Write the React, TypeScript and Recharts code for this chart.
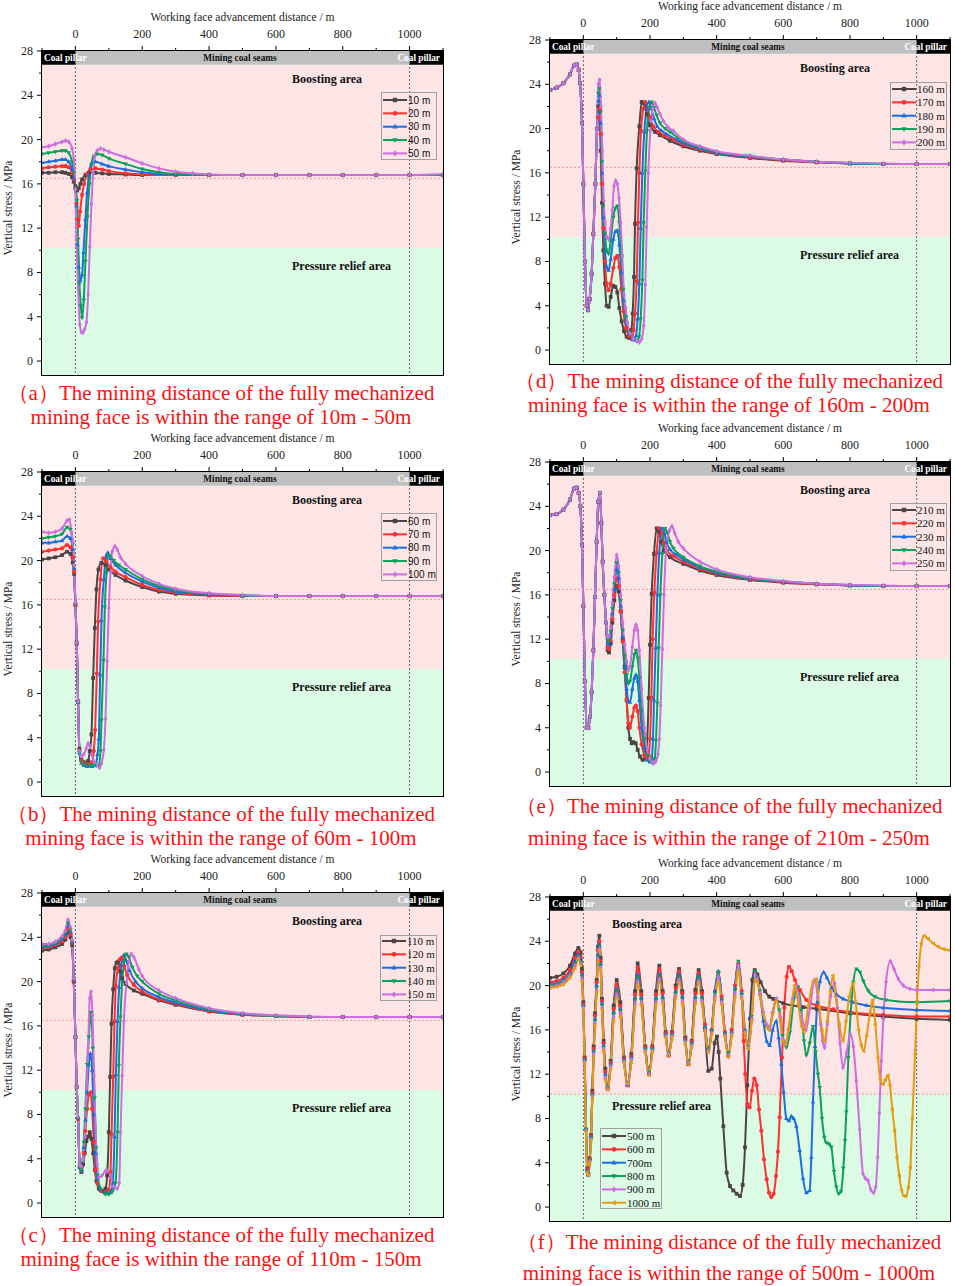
import React from "react";
import { LineChart, Line, XAxis, YAxis, ReferenceArea, ReferenceLine } from "recharts";

type Pt = [number, number];

// ---------- (a) 10 m - 50 m ----------
const a10: Pt[] = [[-100,17.0],[-80,17.0],[-60,17.05],[-40,17.05],[-30,17.0],[-20,16.9],[-10,16.6],[-5,16.2],[0,15.8],[5,15.4],[10,15.6],[15,16.0],[20,16.4],[30,16.8],[40,17.0],[60,17.0],[80,16.95],[100,16.9],[150,16.85],[200,16.8],[300,16.8],[400,16.8],[500,16.8],[600,16.8],[700,16.8],[800,16.8],[900,16.8],[1000,16.8],[1100,16.8]];
const a20: Pt[] = [[-100,17.4],[-80,17.5],[-60,17.55],[-40,17.6],[-30,17.6],[-20,17.5],[-10,17.0],[-5,16.4],[0,15.6],[3,14.2],[6,12.8],[10,12.2],[14,13.5],[20,15.0],[26,16.0],[35,16.9],[45,17.3],[60,17.4],[80,17.3],[100,17.15],[150,16.95],[200,16.85],[300,16.8],[400,16.8],[500,16.8],[600,16.8],[700,16.8],[800,16.8],[900,16.8],[1000,16.8],[1100,16.8]];
const a30: Pt[] = [[-100,17.9],[-80,18.0],[-60,18.1],[-40,18.2],[-30,18.2],[-20,18.0],[-10,17.3],[-5,16.5],[0,15.6],[3,14.0],[6,10.5],[10,8.5],[15,7.3],[20,7.8],[24,9.8],[30,12.8],[35,15.2],[40,16.8],[48,17.8],[60,18.0],[80,17.8],[100,17.6],[150,17.3],[200,17.05],[250,16.9],[300,16.85],[400,16.8],[500,16.8],[600,16.8],[700,16.8],[800,16.8],[900,16.8],[1000,16.8],[1100,16.8]];
const a40: Pt[] = [[-100,18.7],[-80,18.8],[-60,18.9],[-40,19.0],[-30,19.0],[-20,18.8],[-10,18.0],[-5,17.0],[0,15.6],[5,14.5],[8,11.0],[12,7.0],[16,5.0],[20,3.9],[25,5.5],[30,9.0],[36,13.0],[42,16.0],[48,17.8],[55,18.5],[65,18.7],[80,18.6],[100,18.3],[150,17.8],[200,17.35],[250,17.05],[300,16.9],[400,16.8],[500,16.8],[600,16.8],[700,16.8],[800,16.8],[900,16.8],[1000,16.8],[1100,16.8]];
const a50: Pt[] = [[-100,19.3],[-80,19.4],[-60,19.6],[-40,19.8],[-30,19.9],[-20,19.8],[-10,19.2],[-5,18.2],[0,15.5],[3,11.2],[8,6.6],[13,3.3],[18,2.6],[23,2.6],[28,2.9],[33,3.5],[38,6.0],[43,10.3],[48,14.2],[53,17.0],[58,18.5],[65,19.0],[75,19.2],[85,19.1],[100,18.9],[150,18.4],[200,17.85],[250,17.4],[300,17.1],[350,16.95],[400,16.85],[500,16.8],[600,16.8],[700,16.8],[800,16.8],[900,16.8],[1000,16.8],[1100,16.9]];

// ---------- (b) 60 m - 100 m ----------
const b60: Pt[] = [[-100,20.1],[-80,20.2],[-60,20.3],[-40,20.5],[-25,20.8],[-15,20.6],[-8,19.8],[-4,18.8],[0,16.0],[4,12.6],[8,7.3],[12,3.0],[18,2.0],[25,1.8],[32,1.7],[38,1.9],[43,2.8],[48,4.3],[53,9.4],[58,13.9],[63,17.4],[69,19.2],[78,19.8],[90,19.6],[100,19.2],[120,18.7],[150,18.2],[200,17.6],[250,17.2],[300,17.0],[400,16.85],[500,16.8],[600,16.8],[700,16.8],[800,16.8],[900,16.8],[1000,16.8],[1100,16.8]];
const b70: Pt[] = [[-100,20.8],[-80,20.9],[-60,21.0],[-40,21.1],[-25,21.4],[-15,21.2],[-8,20.3],[-4,19.0],[0,16.0],[4,12.5],[8,7.2],[12,2.8],[18,1.9],[25,1.7],[35,1.6],[45,1.6],[50,1.8],[55,2.8],[59,4.7],[64,9.8],[68,14.5],[75,18.3],[83,20.2],[92,19.9],[105,19.4],[120,19.0],[150,18.5],[200,17.8],[250,17.35],[300,17.1],[400,16.9],[500,16.8],[600,16.8],[700,16.8],[800,16.8],[900,16.8],[1000,16.8],[1100,16.8]];
const b80: Pt[] = [[-100,21.6],[-80,21.6],[-60,21.7],[-40,21.8],[-25,22.2],[-15,22.0],[-8,21.0],[-4,19.3],[0,16.1],[4,12.5],[8,7.2],[12,2.7],[18,1.7],[25,1.5],[35,1.4],[50,1.4],[60,1.5],[66,2.5],[70,3.9],[74,9.7],[78,14.6],[85,18.3],[93,20.5],[97,20.7],[105,20.2],[120,19.6],[150,18.9],[200,18.1],[250,17.55],[300,17.2],[400,16.95],[500,16.85],[600,16.8],[700,16.8],[800,16.8],[900,16.8],[1000,16.8],[1100,16.8]];
const b90: Pt[] = [[-100,22.0],[-80,22.1],[-60,22.2],[-40,22.4],[-25,23.0],[-15,22.8],[-8,21.5],[-4,19.5],[0,16.1],[4,12.5],[8,7.2],[12,2.7],[18,1.8],[25,1.6],[35,1.6],[50,1.5],[62,1.5],[70,1.5],[75,2.8],[78,5.6],[84,11.0],[88,15.8],[93,18.9],[98,20.5],[104,20.4],[115,20.0],[130,19.6],[150,19.2],[200,18.3],[250,17.7],[300,17.35],[400,17.0],[500,16.85],[600,16.8],[700,16.8],[800,16.8],[900,16.8],[1000,16.8],[1100,16.8]];
const b100: Pt[] = [[-100,22.6],[-80,22.5],[-60,22.6],[-40,22.9],[-25,23.6],[-18,23.7],[-12,22.6],[-8,21.6],[-4,19.6],[0,16.2],[4,12.6],[8,7.3],[12,2.8],[18,2.3],[25,2.5],[32,3.0],[38,3.5],[42,3.3],[48,2.5],[55,1.9],[65,1.5],[72,1.3],[78,1.7],[85,2.9],[90,5.7],[95,10.9],[100,15.7],[105,19.0],[110,20.8],[118,21.3],[125,21.0],[135,20.3],[150,19.7],[200,18.6],[250,17.9],[300,17.45],[400,17.05],[500,16.9],[600,16.8],[700,16.8],[800,16.8],[900,16.8],[1000,16.8],[1100,16.8]];

// ---------- (c) 110 m - 150 m ----------
const c110: Pt[] = [[-100,22.8],[-80,22.9],[-60,23.1],[-40,23.4],[-30,23.8],[-22,24.4],[-15,24.0],[-10,23.3],[-5,20.0],[0,15.0],[4,10.5],[8,7.6],[13,3.3],[18,2.8],[23,3.5],[28,4.5],[33,5.6],[38,6.0],[43,6.4],[48,5.8],[53,4.5],[58,3.0],[63,2.0],[70,1.3],[80,1.1],[90,1.3],[95,2.5],[100,6.4],[104,11.4],[108,16.2],[113,19.3],[118,21.2],[123,21.7],[128,21.8],[134,20.9],[140,20.3],[150,19.8],[175,19.2],[200,18.9],[250,18.3],[300,17.9],[400,17.3],[500,17.0],[600,16.9],[700,16.8],[800,16.8],[900,16.8],[1000,16.8],[1100,16.8]];
const c120: Pt[] = [[-100,23.0],[-80,23.1],[-60,23.3],[-40,23.6],[-30,24.0],[-22,24.7],[-15,24.3],[-10,23.5],[-5,20.1],[0,15.0],[4,10.5],[8,7.6],[13,3.2],[18,2.9],[25,4.5],[30,6.5],[35,8.5],[40,9.8],[45,10.0],[50,8.5],[55,5.5],[60,3.0],[65,1.8],[75,1.1],[90,1.0],[100,1.2],[105,2.8],[108,6.2],[113,11.4],[117,16.4],[121,19.6],[127,21.2],[133,22.0],[140,22.2],[146,21.4],[155,20.6],[175,19.7],[200,19.1],[250,18.4],[300,18.0],[400,17.35],[500,17.0],[600,16.9],[700,16.8],[800,16.8],[900,16.8],[1000,16.8],[1100,16.8]];
const c130: Pt[] = [[-100,23.1],[-80,23.2],[-60,23.4],[-40,23.8],[-30,24.2],[-22,25.0],[-15,24.5],[-10,23.6],[-5,20.2],[0,15.0],[4,10.5],[8,7.7],[13,3.2],[18,2.9],[25,5.0],[30,7.5],[35,10.0],[40,12.5],[45,13.5],[50,12.0],[55,8.0],[60,4.5],[65,2.2],[75,1.2],[90,0.9],[105,1.0],[112,1.8],[117,6.0],[121,11.6],[126,16.4],[131,19.5],[137,21.5],[145,22.4],[152,21.9],[162,21.0],[180,20.0],[200,19.4],[250,18.6],[300,18.1],[400,17.4],[500,17.05],[600,16.9],[700,16.8],[800,16.8],[900,16.8],[1000,16.8],[1100,16.8]];
const c140: Pt[] = [[-100,23.2],[-80,23.3],[-60,23.5],[-40,23.9],[-30,24.4],[-22,25.3],[-15,24.7],[-10,23.7],[-5,20.3],[0,15.0],[4,10.5],[8,7.7],[13,3.3],[18,3.0],[25,5.5],[30,8.5],[35,12.5],[40,15.0],[47,17.2],[52,14.0],[57,9.5],[62,5.0],[67,2.5],[75,1.3],[90,0.8],[100,0.8],[110,1.0],[120,1.8],[126,6.4],[130,12.4],[135,16.8],[140,20.0],[146,21.8],[153,22.5],[160,22.2],[170,21.3],[185,20.5],[200,20.0],[250,18.9],[300,18.3],[400,17.5],[500,17.1],[600,16.9],[700,16.8],[800,16.8],[900,16.8],[1000,16.8],[1100,16.8]];
const c150: Pt[] = [[-100,23.4],[-80,23.4],[-60,23.6],[-40,24.1],[-30,24.6],[-22,25.6],[-15,24.9],[-10,23.8],[-5,20.3],[0,15.0],[4,10.5],[8,7.8],[13,3.4],[18,3.3],[23,4.0],[28,6.0],[33,9.5],[38,14.0],[43,18.5],[47,19.1],[51,17.0],[56,11.5],[60,7.0],[65,3.5],[70,2.3],[80,2.5],[90,2.9],[97,2.9],[105,2.5],[115,1.5],[125,1.3],[131,1.8],[135,6.4],[140,11.5],[145,16.4],[153,19.9],[160,21.8],[167,22.5],[175,22.2],[190,21.1],[200,20.5],[250,19.2],[300,18.5],[400,17.6],[500,17.15],[600,16.95],[700,16.85],[800,16.8],[900,16.8],[1000,16.8],[1100,16.8]];

// ---------- (d) 160 m - 200 m ----------
const dLeft: Pt[] = [[-100,23.5],[-80,23.7],[-60,24.1],[-40,24.9],[-28,25.7],[-20,25.8],[-14,25.3],[-10,24.1],[-4,20.5],[0,15.0],[5,8.0],[10,4.0],[14,3.6],[19,4.6],[25,6.9],[30,10.5],[36,15.0],[41,20.0]];
const d160: Pt[] = [...dLeft,[45,22.0],[48,21.6],[52,18.0],[56,13.3],[60,9.0],[65,6.0],[70,4.0],[76,3.9],[82,4.8],[90,5.8],[96,5.7],[102,5.2],[108,3.8],[115,2.6],[122,1.7],[130,1.2],[137,1.1],[144,1.8],[148,3.3],[152,6.6],[155,11.4],[160,16.4],[168,20.2],[175,22.4],[182,22.3],[190,21.3],[200,20.3],[215,19.7],[230,19.4],[260,18.9],[300,18.4],[350,18.0],[400,17.7],[500,17.35],[600,17.1],[700,16.95],[800,16.85],[900,16.8],[1000,16.8],[1100,16.8]];
const d170: Pt[] = [...dLeft,[45,21.0],[48,21.8],[52,19.5],[56,15.0],[60,11.0],[65,8.0],[70,6.0],[76,5.4],[82,6.0],[90,7.4],[96,8.3],[102,8.5],[108,7.5],[114,5.5],[120,3.5],[128,2.0],[136,1.3],[145,1.0],[151,1.8],[155,3.3],[160,6.2],[164,11.5],[168,16.0],[173,19.8],[180,21.8],[186,22.4],[193,21.8],[200,21.0],[210,20.2],[225,19.7],[240,19.4],[270,19.0],[300,18.55],[350,18.1],[400,17.75],[500,17.4],[600,17.15],[700,16.95],[800,16.85],[900,16.8],[1000,16.8],[1100,16.8]];
const d180: Pt[] = [...dLeft,[45,22.5],[48,23.0],[52,20.5],[56,16.0],[60,12.0],[65,9.0],[70,7.5],[76,7.2],[82,8.2],[90,10.0],[96,10.7],[102,10.8],[108,9.5],[114,7.0],[120,4.5],[128,2.5],[138,1.4],[146,1.0],[152,0.9],[158,1.3],[163,2.8],[168,6.0],[172,11.0],[177,16.0],[183,19.7],[190,21.8],[197,22.4],[204,21.8],[212,20.9],[222,20.2],[235,19.8],[250,19.5],[280,19.0],[300,18.7],[350,18.2],[400,17.8],[500,17.45],[600,17.2],[700,17.0],[800,16.85],[900,16.8],[1000,16.8],[1100,16.8]];
const d190: Pt[] = [...dLeft,[45,23.2],[48,23.6],[52,21.5],[56,17.0],[60,13.0],[65,10.5],[70,9.0],[76,8.7],[82,9.8],[90,12.0],[96,12.8],[102,13.0],[108,11.5],[114,8.5],[120,5.5],[128,3.0],[138,1.6],[150,1.0],[160,0.8],[167,1.2],[172,2.8],[177,6.3],[181,11.5],[186,16.2],[191,19.8],[198,21.9],[205,22.4],[212,21.9],[220,21.2],[230,20.5],[245,20.0],[260,19.7],[300,18.85],[350,18.3],[400,17.85],[500,17.5],[600,17.2],[700,17.0],[800,16.9],[900,16.8],[1000,16.8],[1100,16.8]];
const d200: Pt[] = [...dLeft,[45,24.0],[49,24.4],[53,22.0],[57,18.0],[61,13.5],[65,11.6],[70,10.2],[76,10.0],[82,11.0],[87,12.6],[92,14.8],[97,15.3],[102,15.0],[107,13.7],[112,11.5],[117,8.5],[122,5.0],[127,3.8],[132,2.5],[140,1.5],[150,1.0],[160,0.8],[168,0.7],[175,1.0],[181,2.2],[186,5.9],[190,11.1],[195,16.0],[201,19.8],[208,21.8],[215,22.3],[222,21.9],[230,21.3],[240,20.7],[255,20.1],[270,19.8],[300,19.0],[350,18.4],[400,17.95],[500,17.55],[600,17.2],[700,17.0],[800,16.9],[900,16.85],[1000,16.8],[1100,16.8]];

// ---------- (e) 210 m - 250 m ----------
const eLeft: Pt[] = [[-100,23.2],[-80,23.3],[-60,23.7],[-40,24.6],[-28,25.6],[-20,25.7],[-14,25.2],[-9,24.0],[-4,20.5],[0,15.0],[5,8.2],[10,4.0],[15,4.0],[20,5.0],[25,7.2],[30,11.0],[35,15.8],[40,20.8],[45,24.4],[50,25.2],[54,22.5],[58,19.0],[63,16.0],[68,13.5]];
const e210: Pt[] = [...eLeft,[73,11.0],[77,10.8],[82,11.6],[87,13.5],[93,15.5],[100,16.8],[106,16.3],[112,14.5],[118,12.0],[124,9.5],[130,6.5],[135,4.0],[140,3.0],[145,2.6],[150,2.7],[157,2.6],[163,2.0],[170,1.4],[178,1.1],[185,1.2],[190,2.0],[196,6.7],[200,11.5],[205,16.1],[212,19.7],[220,22.0],[227,21.7],[234,20.8],[242,20.0],[260,19.4],[300,18.8],[350,18.2],[400,17.8],[500,17.35],[600,17.1],[700,16.95],[800,16.85],[900,16.8],[1000,16.8],[1100,16.8]];
const e220: Pt[] = [...eLeft,[73,11.3],[77,11.1],[82,11.9],[87,13.8],[93,16.0],[100,17.5],[106,16.8],[112,14.5],[118,11.8],[124,9.0],[130,6.5],[135,4.4],[140,4.0],[147,5.0],[153,5.8],[158,6.0],[163,5.5],[168,4.0],[175,2.5],[183,1.5],[190,1.2],[196,1.5],[200,3.0],[204,6.7],[208,12.0],[213,16.2],[220,19.8],[228,22.0],[235,21.6],[242,20.7],[250,20.0],[270,19.5],[300,19.0],[350,18.35],[400,17.9],[500,17.4],[600,17.15],[700,16.95],[800,16.85],[900,16.8],[1000,16.8],[1100,16.8]];
const e230: Pt[] = [...eLeft,[73,11.6],[77,11.5],[82,12.3],[87,14.3],[93,16.5],[100,18.3],[106,17.5],[112,15.0],[118,12.2],[124,9.5],[130,7.5],[135,6.4],[140,6.3],[147,7.5],[153,8.5],[158,8.8],[163,8.2],[168,6.5],[175,4.0],[183,2.2],[192,1.1],[200,0.9],[205,1.2],[209,3.0],[212,6.5],[217,11.2],[222,16.0],[228,19.8],[236,22.0],[243,21.6],[250,20.7],[260,20.1],[280,19.6],[300,19.2],[350,18.5],[400,18.0],[500,17.45],[600,17.2],[700,17.0],[800,16.85],[900,16.8],[1000,16.8],[1100,16.8]];
const e240: Pt[] = [...eLeft,[73,11.9],[77,11.9],[82,12.7],[87,14.8],[93,17.0],[100,18.9],[106,18.0],[112,15.5],[118,12.8],[124,10.5],[130,8.8],[135,8.0],[140,8.2],[147,9.5],[153,10.6],[158,11.0],[163,10.3],[168,8.5],[175,5.5],[183,3.0],[192,1.5],[200,1.0],[208,0.8],[214,1.2],[218,2.8],[222,6.2],[226,11.2],[231,16.0],[237,19.7],[245,22.0],[252,21.6],[260,20.8],[270,20.2],[300,19.4],[350,18.6],[400,18.1],[500,17.5],[600,17.2],[700,17.0],[800,16.9],[900,16.8],[1000,16.8],[1100,16.8]];
const e250: Pt[] = [...eLeft,[73,12.2],[77,12.3],[82,13.1],[87,15.3],[93,17.6],[100,19.6],[106,18.6],[112,16.0],[118,13.5],[124,11.5],[130,10.0],[135,9.2],[140,9.5],[147,11.3],[153,12.8],[158,13.3],[163,12.8],[168,11.0],[175,7.5],[183,4.0],[192,2.0],[200,1.2],[207,0.9],[212,0.8],[218,1.0],[224,1.6],[228,3.0],[232,6.0],[237,11.1],[242,16.0],[248,20.0],[258,21.8],[266,22.2],[274,21.6],[285,20.8],[300,20.2],[350,19.0],[400,18.3],[500,17.6],[600,17.25],[700,17.0],[800,16.9],[900,16.85],[1000,16.8],[1100,16.8]];

// ---------- (f) 500 m - 1000 m ----------
const f500: Pt[] = [[-100,20.7],[-80,20.8],[-60,21.1],[-40,21.8],[-25,22.9],[-15,23.4],[-8,23.0],[-4,21.5],[0,18.5],[4,13.5],[8,7.0],[12,3.5],[15,3.0],[19,4.4],[23,6.5],[27,10.5],[31,14.5],[35,17.5],[40,20.5],[44,23.5],[48,24.5],[52,22.5],[56,18.8],[61,15.0],[66,12.5],[73,10.7],[82,13.2],[91,18.2],[100,20.5],[111,18.5],[122,13.5],[133,11.0],[144,13.8],[155,19.5],[163,22.0],[174,19.5],[186,14.5],[197,12.0],[207,14.5],[218,19.5],[228,21.8],[238,19.5],[247,15.8],[256,13.7],[266,15.8],[277,20.0],[287,21.5],[297,19.5],[306,15.3],[315,12.9],[325,15.0],[336,19.6],[346,21.4],[356,19.5],[365,16.0],[375,12.3],[385,12.5],[394,14.8],[401,15.4],[406,14.0],[411,11.6],[420,7.3],[430,3.1],[440,1.9],[450,1.5],[460,1.2],[470,1.0],[478,2.0],[485,5.4],[492,11.0],[500,17.0],[507,20.5],[514,21.4],[522,21.0],[532,20.3],[545,19.5],[558,19.0],[570,18.8],[600,18.4],[660,18.05],[700,17.9],[800,17.5],[900,17.2],[1000,17.0],[1100,16.9]];
const f600: Pt[] = [[-100,20.3],[-80,20.4],[-60,20.7],[-40,21.4],[-25,22.5],[-15,23.0],[-8,22.6],[-4,21.2],[0,18.3],[4,13.4],[8,7.0],[12,3.4],[15,2.9],[19,4.3],[23,6.4],[27,10.3],[31,14.3],[35,17.3],[40,20.3],[44,23.2],[48,24.0],[52,22.2],[56,18.6],[61,14.8],[66,12.2],[73,10.7],[82,13.0],[91,17.9],[100,20.1],[111,18.2],[122,13.4],[133,11.0],[144,13.6],[155,19.2],[163,21.6],[174,19.2],[186,14.4],[197,12.0],[207,14.4],[218,19.2],[228,21.5],[238,19.3],[247,15.7],[256,13.7],[266,15.7],[277,19.8],[287,21.3],[297,19.3],[306,15.2],[315,12.9],[325,14.9],[336,19.3],[346,21.1],[356,19.3],[365,16.5],[375,14.2],[385,16.0],[395,19.5],[405,21.2],[415,19.0],[425,15.8],[435,13.6],[445,16.0],[455,20.0],[465,22.0],[475,19.5],[481,15.0],[486,12.0],[492,9.3],[499,9.0],[506,10.5],[513,11.6],[520,11.0],[527,8.8],[534,6.9],[542,4.3],[550,2.5],[557,1.3],[564,0.9],[571,1.2],[578,2.8],[584,5.0],[589,8.1],[596,13.5],[603,18.0],[610,20.8],[617,21.7],[625,21.3],[635,20.5],[650,19.6],[669,18.7],[700,18.2],[750,17.85],[800,17.6],[900,17.35],[1000,17.2],[1100,17.2]];
const f700: Pt[] = [[-100,20.1],[-80,20.2],[-60,20.5],[-40,21.1],[-25,22.2],[-15,22.8],[-8,22.4],[-4,21.0],[0,18.2],[4,13.3],[8,7.0],[12,3.3],[15,2.9],[19,4.2],[23,6.3],[27,10.2],[31,14.1],[35,17.0],[40,20.0],[44,22.8],[48,23.7],[52,22.0],[56,18.4],[61,14.6],[66,12.0],[73,10.8],[82,12.9],[91,17.6],[100,19.7],[111,17.9],[122,13.3],[133,11.1],[144,13.5],[155,18.9],[163,21.0],[174,18.9],[186,14.3],[197,12.1],[207,14.3],[218,18.9],[228,21.0],[238,19.0],[247,15.6],[256,13.8],[266,15.6],[277,19.5],[287,21.0],[297,19.0],[306,15.1],[315,13.0],[325,14.8],[336,19.0],[346,20.9],[356,19.0],[365,16.3],[375,14.2],[385,16.0],[395,19.5],[405,21.3],[415,18.8],[425,15.7],[435,13.8],[445,15.8],[455,19.8],[465,21.9],[475,19.3],[485,16.0],[495,14.4],[505,17.0],[515,21.0],[522,20.6],[530,19.2],[540,16.8],[550,15.0],[559,14.6],[568,16.0],[579,16.8],[586,15.3],[594,12.9],[601,10.4],[609,8.0],[617,7.8],[624,8.2],[631,8.0],[639,7.3],[649,5.1],[659,2.6],[669,1.3],[679,1.5],[684,4.5],[689,9.5],[695,14.5],[702,18.5],[710,20.4],[721,21.2],[731,20.7],[745,19.8],[760,19.2],[780,18.8],[809,18.5],[850,18.2],[900,18.0],[1000,17.8],[1100,17.7]];
const f800: Pt[] = [[-100,20.0],[-80,20.1],[-60,20.4],[-40,21.0],[-25,22.0],[-15,22.6],[-8,22.2],[-4,20.8],[0,18.1],[4,13.2],[8,7.0],[12,3.2],[15,2.9],[19,4.2],[23,6.2],[27,10.1],[31,14.0],[35,16.8],[40,19.8],[44,22.6],[48,23.5],[52,21.8],[56,18.2],[61,14.4],[66,11.8],[73,10.8],[82,12.8],[91,17.4],[100,19.5],[111,17.7],[122,13.2],[133,11.2],[144,13.4],[155,18.7],[163,20.7],[174,18.7],[186,14.2],[197,12.2],[207,14.2],[218,18.7],[228,20.8],[238,18.8],[247,15.5],[256,13.9],[266,15.5],[277,19.3],[287,20.8],[297,18.8],[306,15.0],[315,13.1],[325,14.7],[336,18.8],[346,20.7],[356,18.8],[365,16.2],[375,14.3],[385,15.9],[395,19.3],[405,21.2],[415,18.7],[425,15.6],[435,13.9],[445,15.7],[455,19.6],[465,22.2],[475,19.2],[485,15.9],[495,14.5],[505,17.2],[515,21.3],[522,20.8],[530,19.5],[540,17.5],[550,16.3],[558,16.0],[568,17.5],[579,18.8],[588,17.8],[598,15.5],[609,14.4],[620,15.8],[632,18.8],[644,19.9],[654,17.8],[662,15.0],[669,13.7],[679,14.8],[689,16.3],[697,14.0],[704,12.0],[709,10.8],[716,8.0],[723,6.3],[729,5.8],[737,5.7],[744,5.4],[752,3.2],[759,1.8],[766,1.2],[773,1.4],[780,3.5],[785,6.0],[789,8.6],[795,13.5],[802,17.5],[810,20.3],[819,21.5],[830,21.2],[840,20.4],[855,19.5],[875,19.0],[908,18.7],[1000,18.5],[1100,18.6]];
const f900: Pt[] = [[-100,19.9],[-80,20.0],[-60,20.3],[-40,20.9],[-25,21.8],[-15,22.5],[-8,22.0],[-4,20.6],[0,18.0],[4,13.1],[8,6.9],[12,3.1],[15,2.9],[19,4.1],[23,6.1],[27,10.0],[31,13.8],[35,16.6],[40,19.6],[44,22.4],[48,23.3],[52,21.6],[56,18.0],[61,14.3],[66,11.7],[73,10.7],[82,12.7],[91,17.2],[100,19.2],[111,17.5],[122,13.1],[133,11.1],[144,13.3],[155,18.4],[163,20.4],[174,18.5],[186,14.1],[197,12.0],[207,14.1],[218,18.5],[228,20.6],[238,18.6],[247,15.4],[256,13.8],[266,15.4],[277,19.1],[287,20.5],[297,18.6],[306,14.9],[315,13.0],[325,14.6],[336,18.6],[346,20.4],[356,18.6],[365,16.0],[375,14.1],[385,15.7],[395,19.0],[405,20.8],[415,18.5],[425,15.5],[435,13.7],[445,15.6],[455,19.3],[465,21.8],[475,19.0],[485,15.8],[495,14.4],[505,17.0],[515,21.0],[522,20.6],[530,19.3],[540,17.6],[550,16.5],[558,16.2],[568,17.6],[579,18.8],[590,17.2],[598,15.2],[606,14.7],[615,16.0],[628,18.8],[640,20.0],[650,18.3],[660,16.5],[668,16.0],[680,18.0],[694,20.5],[703,19.0],[712,16.5],[718,15.0],[724,14.4],[732,16.5],[742,19.0],[754,20.2],[762,18.0],[770,14.8],[779,12.6],[790,14.0],[801,15.6],[810,14.5],[819,11.4],[829,7.0],[839,3.0],[846,2.6],[854,2.4],[862,1.6],[871,1.3],[877,1.8],[883,4.5],[888,8.5],[894,13.2],[900,17.0],[908,20.3],[921,22.2],[932,21.5],[945,20.6],[960,20.0],[980,19.7],[1000,19.6],[1050,19.6],[1100,19.6]];
const f1000: Pt[] = [[-100,19.8],[-80,19.9],[-60,20.1],[-40,20.7],[-25,21.6],[-15,22.4],[-8,21.9],[-4,20.4],[0,17.8],[4,13.0],[8,6.8],[12,3.1],[15,2.9],[19,4.0],[23,6.0],[27,9.8],[31,13.6],[35,16.4],[40,19.4],[44,22.2],[48,23.1],[52,21.4],[56,17.8],[61,14.1],[66,11.5],[73,10.6],[82,12.5],[91,16.9],[100,18.9],[111,17.2],[122,13.0],[133,11.2],[144,13.1],[155,18.1],[163,20.1],[174,18.3],[186,14.0],[197,11.9],[207,14.0],[218,18.3],[228,20.3],[238,18.4],[247,15.3],[256,13.7],[266,15.3],[277,18.9],[287,20.3],[297,18.4],[306,14.8],[315,12.9],[325,14.5],[336,18.4],[346,20.2],[356,18.4],[365,15.9],[375,14.0],[385,15.6],[395,18.8],[405,20.3],[415,18.3],[425,15.4],[435,13.6],[445,15.5],[455,19.0],[465,21.3],[475,18.8],[485,15.7],[495,14.3],[505,16.8],[515,20.5],[522,20.3],[530,19.1],[540,17.4],[550,16.2],[558,16.0],[568,17.5],[579,18.6],[590,17.0],[598,15.0],[606,14.7],[615,16.0],[626,18.5],[634,20.0],[645,18.3],[655,16.3],[662,15.8],[675,18.2],[690,20.4],[699,20.6],[708,18.0],[716,16.0],[724,15.0],[732,16.8],[741,19.5],[749,20.9],[757,19.0],[768,16.5],[779,15.0],[788,16.8],[798,19.0],[809,20.2],[817,18.5],[826,16.0],[834,14.6],[841,14.1],[850,15.5],[860,17.5],[868,18.7],[876,16.5],[884,13.5],[891,11.5],[899,11.1],[906,11.5],[914,11.9],[920,11.0],[927,8.8],[934,6.9],[941,4.5],[948,2.8],[955,1.5],[962,1.0],[968,1.0],[975,1.8],[981,3.6],[987,8.0],[995,13.8],[1001,18.5],[1007,21.7],[1014,23.8],[1022,24.5],[1035,24.2],[1050,23.8],[1065,23.5],[1080,23.3],[1098,23.2]];

const labelsA = ["10 m", "20 m", "30 m", "40 m", "50 m"];
const labelsB = ["60 m", "70 m", "80 m", "90 m", "100 m"];
const labelsC = ["110 m", "120 m", "130 m", "140 m", "150 m"];
const labelsD = ["160 m", "170 m", "180 m", "190 m", "200 m"];
const labelsE = ["210 m", "220 m", "230 m", "240 m", "250 m"];
const labelsF = ["500 m", "600 m", "700m", "800 m", "900 m", "1000 m"];

const xTicks = [-100, 0, 100, 200, 300, 400, 500, 600, 700, 800, 900, 1000, 1100];
const yTicks = [0, 2, 4, 6, 8, 10, 12, 14, 16, 18, 20, 22, 24, 26, 28];

const COLORS = ["#4e4444", "#ff3030", "#1a6ee0", "#0aa05a", "#cc6ee0", "#e49b0f"];
const SHAPES = ["square", "circle", "up", "down", "diamond", "left"];
const SERIF = "'Liberation Serif', 'Times New Roman', serif";
const SANS = "'Liberation Sans', Arial, sans-serif";
const Y_MIN = -1.26;
const PLOT_H = 324;

function Marker({ shape, x, y, r, color }: { shape: string; x: number; y: number; r: number; color: string }) {
  if (shape === "square") return <rect x={x - r} y={y - r} width={2 * r} height={2 * r} fill={color} />;
  if (shape === "circle") return <circle cx={x} cy={y} r={r * 1.1} fill={color} />;
  let pts = "";
  if (shape === "up") pts = `${x},${y - r * 1.3} ${x - r * 1.2},${y + r * 0.8} ${x + r * 1.2},${y + r * 0.8}`;
  if (shape === "down") pts = `${x},${y + r * 1.3} ${x - r * 1.2},${y - r * 0.8} ${x + r * 1.2},${y - r * 0.8}`;
  if (shape === "diamond") pts = `${x},${y - r * 1.4} ${x + r},${y} ${x},${y + r * 1.4} ${x - r},${y}`;
  if (shape === "left") pts = `${x - r * 1.3},${y} ${x + r * 0.8},${y - r * 1.2} ${x + r * 0.8},${y + r * 1.2}`;
  return <polygon points={pts} fill={color} />;
}

function makeDot(shape: string, color: string) {
  return (p: any) => {
    const { cx, cy, index } = p;
    if (cx == null || cy == null) return <g key={`n${index}`} />;
    return (
      <g key={`m${index}`}>
        <Marker shape={shape} x={cx} y={cy} r={1.9} color={color} />
      </g>
    );
  };
}

function LegendBox({ x, y, w, h, first, step, labels, font, size }: any) {
  return (
    <svg style={{ position: "absolute", left: x, top: y }} width={w} height={h}>
      <rect x={0.5} y={0.5} width={w - 1} height={h - 1} fill="none" stroke="#a0a0a0" />
      {labels.map((lab: string, i: number) => {
        const cy = first + i * step;
        return (
          <g key={lab}>
            <line x1={2} x2={26} y1={cy} y2={cy} stroke={COLORS[i]} strokeWidth={2} />
            <Marker shape={SHAPES[i]} x={14} y={cy} r={2.2} color={COLORS[i]} />
            <text x={27} y={cy} dominantBaseline="central" fontFamily={font} fontSize={size} fill="#111">
              {lab}
            </text>
          </g>
        );
      })}
    </svg>
  );
}

const abs = (extra: React.CSSProperties): React.CSSProperties => ({ position: "absolute", whiteSpace: "nowrap", ...extra });

function Panel(p: any) {
  const plotL = p.left + 42;
  const plotT = p.top + p.xh;
  const plotW = p.width - 42 - p.mr;
  const XTick = (t: any) => {
    const v = t.payload.value;
    const major = v % 200 === 0;
    return (
      <g>
        <line x1={t.x} x2={t.x} y1={p.xh} y2={p.xh - (major ? 5 : 3)} stroke="#000" strokeWidth={1} />
        {major && (
          <text x={t.x} y={p.xh - 17} textAnchor="middle" dominantBaseline="central" fontFamily={SERIF} fontSize={12} fill="#222">
            {v}
          </text>
        )}
      </g>
    );
  };
  const YTick = (t: any) => {
    const v = t.payload.value;
    const major = v % 4 === 0;
    return (
      <g>
        <line x1={42} x2={42 - (major ? 5 : 3)} y1={t.y} y2={t.y} stroke="#000" strokeWidth={1} />
        {major && (
          <text x={33} y={t.y} textAnchor="end" dominantBaseline="central" fontFamily={SERIF} fontSize={12} fill="#222">
            {v}
          </text>
        )}
      </g>
    );
  };
  const barText = { fontFamily: SERIF, fontWeight: 700, fontSize: 9.3, lineHeight: "10px", top: plotT + 2 };
  const regionText = { fontFamily: SERIF, fontWeight: 700, fontSize: 12, color: "#111", transform: "translateY(-50%)" };
  return (
    <>
      <div style={{ position: "absolute", left: p.left, top: p.top }}>
        <LineChart width={p.width} height={p.xh + PLOT_H + 1} margin={{ top: 0, right: p.mr, bottom: 1, left: 0 }}>
          <XAxis type="number" dataKey="x" orientation="top" domain={[-100, 1100]} ticks={xTicks} interval={0} height={p.xh} axisLine={false} tickLine={false} tick={XTick} allowDataOverflow />
          <YAxis type="number" domain={[Y_MIN, 28]} ticks={yTicks} interval={0} width={42} axisLine={false} tickLine={false} tick={YTick} allowDataOverflow />
          <ReferenceArea x1={-100} x2={1100} y1={10.2} y2={26.75} fill="#fde5e5" fillOpacity={1} stroke="none" />
          <ReferenceArea x1={-100} x2={1100} y1={Y_MIN} y2={10.2} fill="#dcfbe5" fillOpacity={1} stroke="none" />
          <ReferenceArea x1={0} x2={1000} y1={26.75} y2={28} fill="#bfbfbf" fillOpacity={1} stroke="none" />
          <ReferenceArea x1={-100} x2={0} y1={26.75} y2={28} fill="#000" fillOpacity={1} stroke="none" />
          <ReferenceArea x1={1000} x2={1100} y1={26.75} y2={28} fill="#000" fillOpacity={1} stroke="none" />
          <ReferenceLine y={p.refY} stroke="#f08a8a" strokeDasharray="2 2" strokeWidth={0.9} />
          <ReferenceLine x={0} stroke="#555" strokeDasharray="2 2" strokeWidth={0.9} />
          <ReferenceLine x={1000} stroke="#555" strokeDasharray="2 2" strokeWidth={0.9} />
          {p.series.map((s: Pt[], i: number) => (
            <Line
              key={p.labels[i]}
              data={s.map(([x, y]) => ({ x, y }))}
              dataKey="y"
              type="monotone"
              stroke={COLORS[i]}
              strokeWidth={2}
              dot={makeDot(SHAPES[i], COLORS[i])}
              activeDot={false}
              isAnimationActive={false}
            />
          ))}
        </LineChart>
      </div>
      <div style={{ position: "absolute", left: plotL - 0.75, top: plotT - 0.75, width: plotW + 1.5, height: PLOT_H + 1.5, border: "1.5px solid #000", boxSizing: "border-box", pointerEvents: "none" }} />
      <div style={abs({ ...barText, left: plotL + 2, color: "#fff" })}>Coal pillar</div>
      <div style={abs({ ...barText, left: plotL + 198, color: "#111", transform: "translateX(-50%)" })}>Mining coal seams</div>
      <div style={abs({ ...barText, left: plotL + plotW - 3, color: "#fff", transform: "translateX(-100%)" })}>Coal pillar</div>
      <div style={abs({ ...regionText, left: plotL + p.boost[0], top: plotT + p.boost[1] })}>Boosting area</div>
      <div style={abs({ ...regionText, left: plotL + p.relief[0], top: plotT + p.relief[1] })}>Pressure relief area</div>
      <div style={abs({ left: plotL + plotW / 2, top: plotT - 34, transform: "translate(-50%,-50%)", fontFamily: SERIF, fontSize: 11.5, color: "#222" })}>
        Working face advancement distance / m
      </div>
      <div style={abs({ left: p.left + 8, top: plotT + PLOT_H / 2 - 5, transform: "translate(-50%,-50%) rotate(-90deg)", fontFamily: SERIF, fontSize: 11.5, color: "#222" })}>
        Vertical stress / MPa
      </div>
      <LegendBox x={plotL + p.legend[0]} y={plotT + p.legend[1]} w={p.legend[2]} h={p.legend[3]} first={p.legend[4]} step={13.35} labels={p.labels} font={p.legendFont} size={p.legendSize} />
      {p.caption.map((c: string, i: number) => (
        <div key={c} style={abs({ left: p.capX, top: p.capY[i], transform: "translate(-50%,-50%)", fontFamily: SERIF, fontSize: 21, color: "#ff1010" })}>
          {c}
        </div>
      ))}
    </>
  );
}

const cap2 = "mining face is within the range of ";

export default function App() {
  const L = { left: 0, width: 455, mr: 12, xh: 51, capX: 221, boost: [250, 28], relief: [250, 215], refY: 16.5 };
  const R = { left: 508, width: 447, mr: 5, xh: 40, capX: 729, boost: [250, 28], relief: [250, 215], refY: 16.5 };
  return (
    <div style={{ position: "relative", width: 955, height: 1286, overflow: "hidden", background: "#fff" }}>
      <style>{"body{margin:0}"}</style>
      <Panel {...L} top={0} series={[a10, a20, a30, a40, a50]} labels={labelsA} legend={[339, 41, 56, 68, 8]} legendFont={SANS} legendSize={10}
        caption={["（a）The mining distance of the fully mechanized", cap2 + "10m - 50m"]} capY={[393, 417]} />
      <Panel {...L} top={421} series={[b60, b70, b80, b90, b100]} labels={labelsB} legend={[339, 41, 56, 68, 8]} legendFont={SANS} legendSize={10}
        caption={["（b）The mining distance of the fully mechanized", cap2 + "60m - 100m"]} capY={[814, 838]} />
      <Panel {...L} top={842} series={[c110, c120, c130, c140, c150]} labels={labelsC} legend={[338, 42, 57, 66, 6]} legendFont={SERIF} legendSize={11}
        caption={["（c）The mining distance of the fully mechanized", cap2 + "110m - 150m"]} capY={[1235, 1259]} />
      <Panel {...R} top={0} series={[d160, d170, d180, d190, d200]} labels={labelsD} legend={[340, 42, 57, 68, 7]} legendFont={SERIF} legendSize={11}
        caption={["（d）The mining distance of the fully mechanized", cap2 + "160m - 200m"]} capY={[381, 405]} />
      <Panel {...R} top={422} series={[e210, e220, e230, e240, e250]} labels={labelsE} legend={[340, 41, 57, 68, 7]} legendFont={SERIF} legendSize={11}
        caption={["（e）The mining distance of the fully mechanized", cap2 + "210m - 250m"]} capY={[806, 838]} />
      <Panel {...R} top={857} refY={10.2} boost={[62, 27]} relief={[62, 209]} series={[f500, f600, f700, f800, f900, f1000]} labels={labelsF} legend={[50, 231, 62, 81, 8]} legendFont={SERIF} legendSize={11}
        caption={["（f）The mining distance of the fully mechanized", cap2 + "500m - 1000m"]} capY={[1242, 1273]} />
    </div>
  );
}
